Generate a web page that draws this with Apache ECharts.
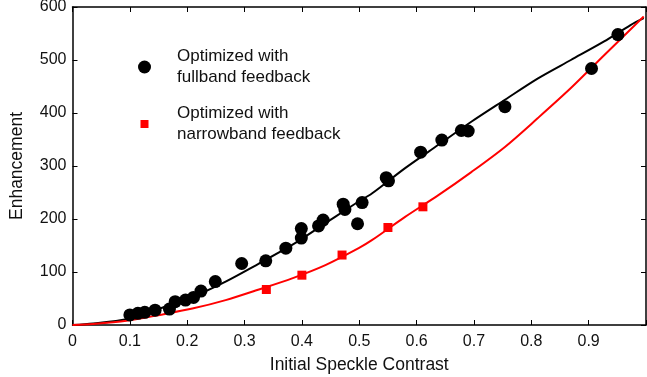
<!DOCTYPE html>
<html><head><meta charset="utf-8">
<script src="https://cdn.jsdelivr.net/npm/echarts@6/dist/echarts.min.js"></script>
<style>html,body{margin:0;padding:0;background:#fff}#c{width:647px;height:377px}</style>
</head><body><div id="c"></div>
<script>
const fullbandX = [0.100,0.114,0.126,0.144,0.169,0.179,0.197,0.211,0.224,0.249,0.295,0.337,0.372,0.399,0.399,0.429,0.437,0.472,0.475,0.497,0.505,0.547,0.551,0.607,0.644,0.678,0.690,0.754,0.905,0.951];
const fullbandY = [19,22,24,28,30,44,47,52,64,82,116,121,145,164,182,187,198,228,218,191,231,278,272,326,349,367,366,412,484,548];
const narrowX = [0.338,0.400,0.470,0.550,0.611];
const narrowY = [67,94,132,184,223];
const fitBlackX = [0,0.036,0.094,0.152,0.209,0.267,0.325,0.383,0.441,0.499,0.522,0.580,0.638,0.696,0.754,0.811,0.869,0.927,0.973,0.996];
const fitBlackY = [0,3,11,31,53,82,116,151,192,233,248,296,340,384,425,465,500,535,566,579];
const fitRedX = [0,0.036,0.094,0.152,0.209,0.267,0.325,0.383,0.441,0.499,0.522,0.580,0.638,0.696,0.754,0.811,0.869,0.927,0.996];
const fitRedY = [0,2,8,19,31,47,67,88,113,145,160,204,245,289,336,390,447,509,582];
const xTicks = [0,0.1,0.2,0.3,0.4,0.5,0.6,0.7,0.8,0.9];
const yTicks = [0,100,200,300,400,500,600];

const zip = (a,b) => a.map((v,i)=>[v,b[i]]);
const font = 'Liberation Sans, Arial, sans-serif';
const chart = echarts.init(document.getElementById('c'), null, {renderer:'canvas'});
const tickStyle = {show:true, inside:true, length:5, lineStyle:{color:'#000', width:1}};
const lineStyle = {show:true, onZero:false, lineStyle:{color:'#000', width:1.5}};
chart.setOption({
  animation:false,
  grid:{left:72.5, top:7, width:573.5, height:318, outerBoundsMode:'none', containLabel:false},
  legend:{
    orient:'vertical', left:138, top:46, padding:0, itemWidth:13, itemHeight:13, itemGap:15,
    data:[
      {name:'Optimized with\nfullband feedback', icon:'circle'},
      {name:'Optimized with\nnarrowband feedback', icon:'path://M0,0L0,0M13,13L13,13M2.5,2.5L10.5,2.5L10.5,10.5L2.5,10.5Z'}
    ],
    textStyle:{fontFamily:font, fontSize:17, color:'#111', lineHeight:21, padding:[0,0,0,21]}
  },
  xAxis:[{
    type:'value', min:0, max:1, interval:0.1, position:'bottom',
    axisLine:lineStyle, axisTick:tickStyle, splitLine:{show:false},
    axisLabel:{fontFamily:font, fontSize:16, color:'#111', margin:9,
      formatter:v=>{const t=xTicks.find(x=>Math.abs(x-v)<1e-6); return t===undefined?'':String(t);}},
    name:'Initial Speckle Contrast', nameLocation:'middle', nameGap:31,
    nameTextStyle:{fontFamily:font, fontSize:17.5, color:'#111'}
  },{
    type:'value', min:0, max:1, interval:0.1, position:'top',
    axisLine:lineStyle, axisTick:tickStyle, axisLabel:{show:false}, splitLine:{show:false}
  }],
  yAxis:[{
    type:'value', min:0, max:600, interval:100, position:'left',
    axisLine:lineStyle, axisTick:tickStyle, splitLine:{show:false},
    axisLabel:{fontFamily:font, fontSize:16, color:'#111', margin:6,
      formatter:v=>yTicks.includes(v)?String(v):''},
    name:'Enhancement', nameLocation:'middle', nameGap:46,
    nameTextStyle:{fontFamily:font, fontSize:17.5, color:'#111'}
  },{
    type:'value', min:0, max:600, interval:100, position:'right',
    axisLine:lineStyle, axisTick:tickStyle, axisLabel:{show:false}, splitLine:{show:false}
  }],
  series:[
    {type:'line', name:'fitBlack', data:zip(fitBlackX,fitBlackY), symbol:'none', smooth:0.3, lineStyle:{color:'#000', width:2}, itemStyle:{color:'#000'}, z:2},
    {type:'line', name:'fitRed', data:zip(fitRedX,fitRedY), symbol:'none', smooth:0.3, lineStyle:{color:'#ff0000', width:2}, itemStyle:{color:'#ff0000'}, z:2},
    {type:'scatter', name:'Optimized with\nfullband feedback', data:zip(fullbandX,fullbandY), symbol:'circle', symbolSize:13, itemStyle:{color:'#000', opacity:1}, z:3},
    {type:'scatter', name:'Optimized with\nnarrowband feedback', data:zip(narrowX,narrowY), symbol:'rect', symbolSize:9, itemStyle:{color:'#ff0000', opacity:1}, z:3},
    {type:'scatter', name:'frameAxes', xAxisIndex:1, yAxisIndex:1, data:[], silent:true}
  ]
});
</script></body></html>
